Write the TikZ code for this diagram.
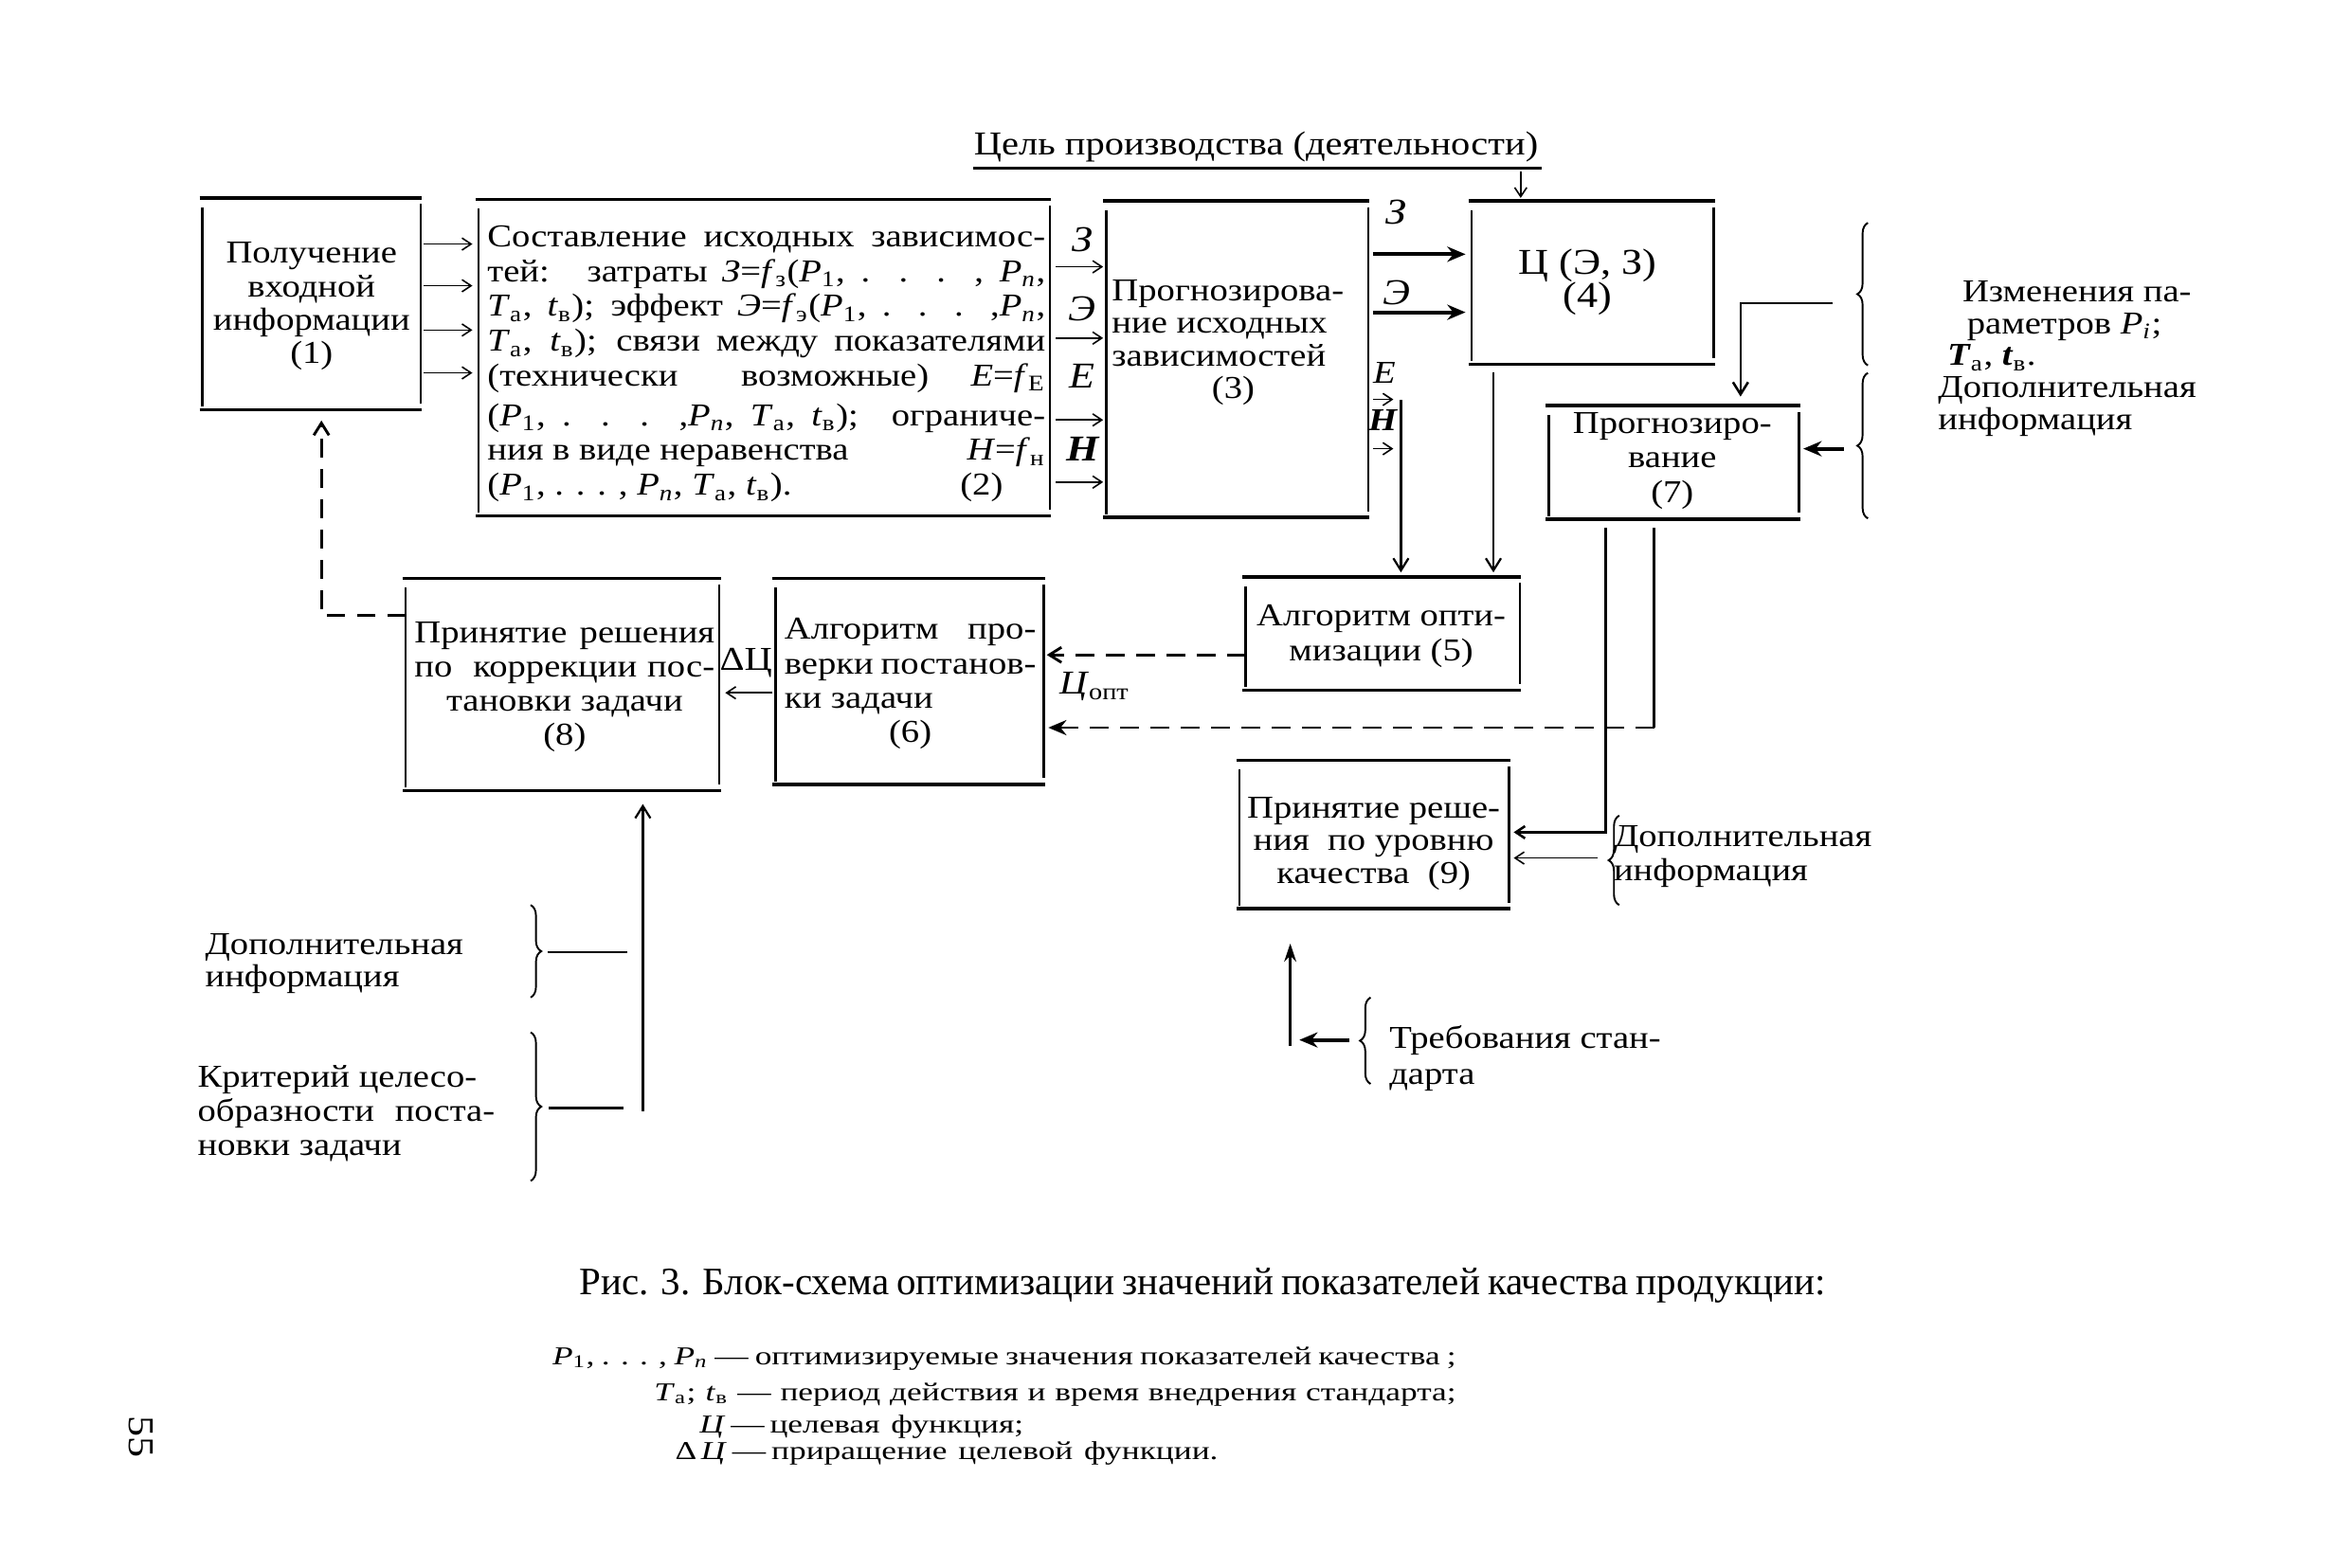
\documentclass[tikz,border=0pt]{standalone}
\usepackage{fontspec}
\setmainfont{Liberation Serif}[FakeStretch=1.15]
\newfontfamily\capfont{Liberation Serif}
\newfontfamily\legfont{Liberation Serif}[FakeStretch=1.3]
\usetikzlibrary{arrows.meta,decorations.pathreplacing,fit}
\newcommand\myPa{\textit{P}\textsubscript{1}}
\newcommand\myPn{\textit{P}\textsubscript{\textit{n}}}
\newcommand\myTa{\textit{T}\textsubscript{а}}
\newcommand\mytv{\textit{t}\textsubscript{в}}
\newcommand\jlin[2]{\makebox[#1][s]{#2}}
\newcommand\frm[1]{%
 \draw[hl] ([xshift=-1pt]#1.north west) -- ([xshift=0.5pt]#1.north east);
 \draw[hl] ([xshift=-1pt]#1.south west) -- ([xshift=0.5pt]#1.south east);
 \draw[vl] ([yshift=-3pt]#1.north west) -- ([yshift=1pt]#1.south west);
 \draw[vl] ([yshift=-2pt]#1.north east) -- ([yshift=2pt]#1.south east);}
\tikzset{
 hl/.style={line width=1.1pt},
 vl/.style={line width=0.8pt},
 bx/.style={inner sep=0pt, draw=none},
 txt/.style={inner sep=0pt, font=\fontsize{10.5}{11.5}\selectfont},
 sa/.style={line width=0.5pt, -{Straight Barb[length=3pt,width=4pt]}},
 ta/.style={line width=1.3pt, -{Stealth[length=6pt,width=5pt]}},
 ln/.style={line width=0.8pt},
 dn/.style={line width=0.7pt, -{Straight Barb[length=4pt,width=5pt]}},
 dsh/.style={line width=0.9pt, dash pattern=on 6pt off 4pt},
 brc/.style={decorate, decoration={brace, amplitude=3.5pt, aspect=0.5}, line width=0.6pt},
 lab/.style={inner sep=0pt, font=\fontsize{12}{12}\selectfont\itshape},
}
\begin{document}
\begin{tikzpicture}[x=0.5pt,y=-0.5pt]
\fill[white] (0,0) rectangle (1550,1034);
\useasboundingbox (0,0) rectangle (1550,1034);

% boxes
\node[bx, fit={(134,131) (277,270)}] (b1) {};
\node[bx, fit={(316,132) (692,340)}] (b2) {};
\node[bx, fit={(730,133) (902,341)}] (b3) {};
\node[bx, fit={(971,133) (1130,240)}] (b4) {};
\node[bx, fit={(822,381) (1002,455)}] (b5) {};
\node[bx, fit={(512,382) (688,517)}] (b6) {};
\node[bx, fit={(1022,268) (1186,342)}] (b7) {};
\node[bx, fit={(268,382) (474,521)}] (b8) {};
\node[bx, fit={(818,502) (995,599)}] (b9) {};
\frm{b1}\frm{b2}\frm{b3}\frm{b4}\frm{b5}\frm{b6}\frm{b7}\frm{b8}\frm{b9}

% box texts
\node[txt, align=center, font=\fontsize{10.5}{11}\selectfont] (t1) at (205.5,202) {Получение\\входной\\информации\\(1)};
\node[txt, align=left] (t2) at (505.5,240) {%
\jlin{184pt}{Составление исходных зависимос-}\\
\jlin{184pt}{тей: \ затраты \textit{З}=\textit{f}\textsubscript{з}(\myPa, . . . , \myPn,}\\
\jlin{184pt}{\myTa, \mytv); эффект \textit{Э}=\textit{f}\textsubscript{э}(\myPa, . . . ,\myPn,}\\
\jlin{184pt}{\myTa, \mytv); связи между показателями}\\
\jlin{184pt}{(технически \ \ возможные) \ \textit{E}=\textit{f}\textsubscript{E}}\\[1.5pt]
\jlin{184pt}{(\myPa, . . . ,\myPn, \myTa, \mytv); \ ограниче-}\\
\jlin{184pt}{ния в виде неравенства \hfill \textit{H}=\textit{f}\textsubscript{н}}\\
\jlin{184pt}{(\myPa, . . . , \myPn, \myTa, \mytv). \hfill (2)\hspace*{14pt}}};
\node[txt, align=left, anchor=west, font=\fontsize{10.5}{10.7}\selectfont] (t3) at (733,226) {Прогнозирова-\\ние исходных\\зависимостей\\\makebox[80pt]{(3)}};
\node[txt, align=center, font=\fontsize{12}{11}\selectfont] (t4) at (1047,186) {Ц (Э, З)\\(4)};
\node[txt, align=center] (t5) at (911,419.5) {Алгоритм опти-\\мизации (5)};
\node[txt, align=left, anchor=west, font=\fontsize{10.5}{11.3}\selectfont] (t6) at (517,451) {\jlin{83pt}{Алгоритм \hfill про-}\\\jlin{83pt}{верки постанов-}\\ки задачи\\\makebox[83pt]{(6)}};
\node[txt, align=center] (t7) at (1103,304) {Прогнозиро-\\вание\\(7)};
\node[txt, align=left, anchor=west, font=\fontsize{10.5}{11.3}\selectfont] (t8) at (273,453) {\jlin{99pt}{Принятие решения}\\\jlin{99pt}{по \ коррекции пос-}\\\makebox[99pt]{тановки задачи}\\\makebox[99pt]{(8)}};
\node[txt, align=center, font=\fontsize{10.5}{10.7}\selectfont] (t9) at (906,556.5) {Принятие реше-\\ния \ по уровню\\качества \ (9)};

% arrow labels
\node[lab] (lz2) at (714,158) {З};
\node[lab] (le2) at (714,204) {Э};
\node[lab] (lE2) at (714,248) {E};
\node[lab] (lH2) at (714,296) {\bfseries H};
\node[lab] (lz3) at (921,140) {З};
\node[lab] (le3) at (921,193) {Э};
\node[lab, font=\fontsize{10.5}{10.5}\selectfont\itshape] (lE3) at (913,246) {E};
\node[lab, font=\fontsize{10.5}{10.5}\selectfont\itshape] (lH3) at (912,277) {\bfseries H};
\node[inner sep=0pt, font=\fontsize{11}{11}\selectfont] (lopt) at (722,453) {\textit{Ц}\textsubscript{опт}};
\node[inner sep=0pt, font=\fontsize{11}{11}\selectfont] (ldc) at (492,437) {ΔЦ};

% title
\node[inner sep=0pt, font=\fontsize{11}{13}\selectfont] (title) at (828.5,97) {Цель производства (деятельности)};
\draw[line width=0.9pt] (title.west |- 0,111) -- ([xshift=1pt]title.east |- 0,111);
\coordinate (ulend) at (1003,113);
\draw[sa, shorten >=1pt] (ulend) -- (b4.north -| ulend);

% right side texts
\node[txt, align=left, anchor=west, font=\fontsize{10.5}{10.5}\selectfont] (rt) at (1278,236.5) {\hspace*{8pt}Изменения па-\\\hspace*{9.5pt}раметров \textit{P}\textsubscript{\textit{i}};\\\hspace*{3pt}\textbf{\textit{T}}\textsubscript{а}, \textbf{\textit{t}}\textsubscript{в}.\\Дополнительная\\информация};
\draw[brc] (1232,241) -- (1232,147);
\draw[brc] (1232,342) -- (1232,246);

% connectors top row
\foreach \yy in {161,188.5,217.7,246}
  \draw[sa, shorten <=1pt, shorten >=2pt] (b1.east |- 0,\yy) -- (b2.west |- 0,\yy);
\foreach \yy in {176,223,277,318}
  \draw[sa, shorten <=2pt, shorten >=1pt] (b2.east |- 0,\yy) -- (b3.west |- 0,\yy);
\foreach \yy in {167.7,206}
  \draw[ta, shorten <=1.5pt, shorten >=2pt] (b3.east |- 0,\yy) -- (b4.west |- 0,\yy);
\foreach \yy in {263.5,296}
  \draw[sa, shorten <=1.5pt] (b3.east |- 0,\yy) -- (919,\yy);
\coordinate (eh) at (924,264);
\draw[dn, shorten >=1.5pt] (eh) -- (b5.north -| eh);
\draw[dn, shorten <=2.5pt, shorten >=1.5pt] (b4.south -| 985,0) -- (b5.north -| 985,0);
\coordinate (br1) at (1209,200);
\draw[ln, -{Straight Barb[length=4pt,width=5pt]}, shorten >=3pt] (br1) -- (1148,200) -- (b7.north -| 1148,0);
\coordinate (br2) at (1216,296);
\draw[ta, shorten >=1.5pt] (br2) -- (b7.east |- br2);

% middle
\draw[dsh, -{Straight Barb[length=4pt,width=5pt]}, shorten >=1pt] (b5.west |- 0,432) -- (b6.east |- 0,432);
\coordinate (c7r) at (1091,480);
\draw[ln, shorten <=3pt] (b7.south -| c7r) -- (c7r);
\draw[dsh, -{Stealth[length=6pt,width=5pt]}, shorten >=1.5pt] (c7r) -- (b6.east |- c7r);
\coordinate (c7l) at (1059,549);
\draw[ln, -{Straight Barb[length=3pt,width=4pt]}, shorten <=3pt, shorten >=1.5pt] (b7.south -| c7l) -- (c7l) -- (b9.east |- c7l);
\draw[sa, shorten <=1pt, shorten >=2pt] (b6.west |- 0,457) -- (b8.east |- 0,457);
\draw[dsh, -{Straight Barb[length=4pt,width=5pt]}, shorten >=3.5pt] (b8.west |- 0,406) -- (212,406) -- (b1.south -| 212,0);

% box 9 side
\node[txt, align=left, anchor=west, font=\fontsize{10.5}{11}\selectfont] (rdi) at (1064,565) {Дополнительная\\информация};
\draw[brc] (1068,597) -- (1068,538);
\coordinate (br9) at (1054,566);
\draw[sa, shorten >=1.5pt] (br9) -- (b9.east |- br9);
\node[txt, align=left, anchor=west, font=\fontsize{10.5}{12}\selectfont] (rq) at (916,698) {Требования стан-\\дарта};
\draw[brc] (904,715) -- (904,658);
\coordinate (brq) at (890,686);
\coordinate (vq) at (851,690);
\draw[ta] (brq) -- (857,686);
\draw[ln, -{Stealth[length=6pt,width=4pt]}, shorten >=11.5pt] (vq) -- (b9.south -| vq);

% bottom left
\node[txt, align=left, anchor=west, font=\fontsize{10.5}{10.5}\selectfont] (ldi) at (135,635.5) {Дополнительная\\информация};
\node[txt, align=left, anchor=west, font=\fontsize{10.5}{11.2}\selectfont] (lkr) at (130,734.5) {Критерий целесо-\\\jlin{98pt}{образности поста-}\\новки задачи};
\draw[brc] (350,597) -- (350,658);
\draw[brc] (350,681) -- (350,779);
\coordinate (la1) at (361,628); \coordinate (la2) at (414,628);
\coordinate (lb1) at (362,731); \coordinate (lb2) at (411,731);
\draw[ln] (la1) -- (la2);
\draw[ln] (lb1) -- (lb2);
\coordinate (vb) at (424,733);
\draw[dn, shorten >=4.5pt] (vb) -- (b8.south -| vb);

% caption and legend
\node[inner sep=0pt, anchor=west, font=\capfont\fontsize{12.8}{14}\selectfont] (cap) at (382,848) {\jlin{411pt}{Рис. 3. Блок-схема оптимизации значений показателей качества продукции:}};
\node[inner sep=0pt, anchor=west, font=\legfont\fontsize{8.5}{10}\selectfont] (lg1) at (364,896) {\jlin{298pt}{\myPa, . . . , \myPn\ — оптимизируемые значения показателей качества ;}};
\node[inner sep=0pt, anchor=west, font=\legfont\fontsize{8.5}{10}\selectfont] (lg2) at (431,920) {\jlin{264.5pt}{\myTa; \mytv\ — период действия и время внедрения стандарта;}};
\node[inner sep=0pt, anchor=west, font=\legfont\fontsize{8.5}{10}\selectfont] (lg3) at (461,941) {\jlin{106pt}{\textit{Ц} — целевая \ функция;}};
\node[inner sep=0pt, anchor=west, font=\legfont\fontsize{8.5}{10}\selectfont] (lg4) at (445,959) {\jlin{176.5pt}{Δ\,\textit{Ц} — приращение \ целевой \ функции.}};
\node[inner sep=0pt, rotate=-90, font=\fontsize{12}{12}\selectfont] (pg) at (93,948) {55};
\end{tikzpicture}
\end{document}
